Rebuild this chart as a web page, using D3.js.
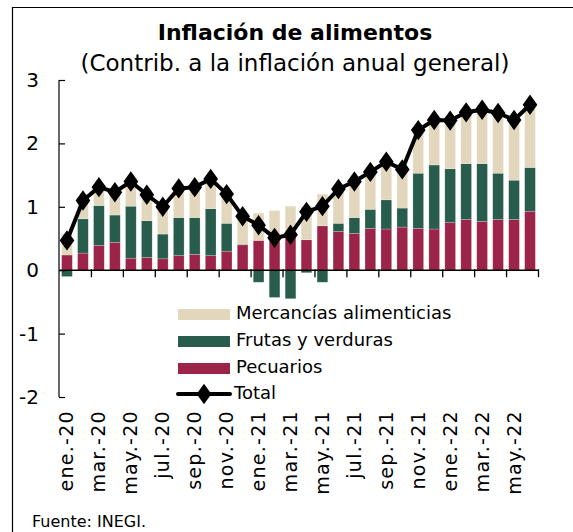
<!DOCTYPE html>
<html>
<head>
<meta charset="utf-8">
<script src="https://cdn.jsdelivr.net/npm/d3@7"></script>
<style>
  body { margin: 0; background: #fff; }
  svg { font-family: "DejaVu Sans", sans-serif; }
</style>
</head>
<body>
<div class="chart"></div>
<script>
// data
const months = ["ene.-20","feb.-20","mar.-20","abr.-20","may.-20","jun.-20","jul.-20","ago.-20","sep.-20","oct.-20","nov.-20","dic.-20",
                "ene.-21","feb.-21","mar.-21","abr.-21","may.-21","jun.-21","jul.-21","ago.-21","sep.-21","oct.-21","nov.-21","dic.-21",
                "ene.-22","feb.-22","mar.-22","abr.-22","may.-22","jun.-22"];
const pecuarios = [0.24,0.27,0.39,0.44,0.19,0.20,0.18,0.23,0.25,0.23,0.30,0.40,
                   0.47,0.46,0.51,0.48,0.70,0.61,0.58,0.66,0.65,0.68,0.66,0.65,
                   0.75,0.80,0.77,0.80,0.80,0.93];
const frutas = [-0.10,0.54,0.63,0.43,0.82,0.58,0.39,0.60,0.58,0.74,0.44,0.01,
                -0.19,-0.43,-0.45,-0.04,-0.19,0.13,0.25,0.30,0.46,0.30,0.87,1.01,
                0.85,0.88,0.91,0.73,0.62,0.69];
const mercancias = [0.33,0.30,0.31,0.36,0.39,0.41,0.43,0.46,0.48,0.47,0.46,0.44,
                    0.43,0.48,0.50,0.53,0.50,0.54,0.57,0.59,0.60,0.61,0.68,0.71,
                    0.76,0.81,0.85,0.95,0.95,0.99];
const total = [0.47,1.10,1.31,1.23,1.40,1.19,1.00,1.29,1.31,1.44,1.20,0.85,
               0.71,0.51,0.56,0.92,1.01,1.28,1.40,1.55,1.71,1.59,2.21,2.37,
               2.36,2.49,2.53,2.48,2.37,2.61];
const yTicks = [-2, -1, 0, 1, 2, 3];

const svgWidth = 573;
const svgHeight = 532;

const colors = {
  pecuarios: "#9d2449",
  frutas: "#285c4d",
  mercancias: "#e2d7bd"
};

const svg = d3.select(".chart")
  .append("svg")
  .attr("width", svgWidth)
  .attr("height", svgHeight);

// frame (only left and top edges are visible)
svg.append("path")
  .attr("d", `M12.5,${svgHeight} V7.5 H${svgWidth}`)
  .attr("fill", "none")
  .attr("stroke", "#000")
  .attr("stroke-width", 1.2);

// titles
svg.append("text")
  .attr("x", 295).attr("y", 40)
  .attr("text-anchor", "middle")
  .attr("font-size", 22).attr("font-weight", "bold")
  .text("Inflación de alimentos");

svg.append("text")
  .attr("x", 295).attr("y", 71)
  .attr("text-anchor", "middle")
  .attr("font-size", 23)
  .text("(Contrib. a la inflación anual general)");

// scales
const x = d3.scaleBand()
  .domain(months)
  .range([59, 538])
  .paddingInner(0.33)
  .paddingOuter(0.165);

const y = d3.scaleLinear()
  .domain([-2, 3])
  .range([397, 80]);

const db = months.map((m, i) => ({
  month: m,
  pecuarios: pecuarios[i],
  frutas: frutas[i],
  mercancias: mercancias[i],
  total: total[i]
}));

const stack = d3.stack()
  .keys(["pecuarios", "frutas", "mercancias"])
  .offset(d3.stackOffsetDiverging);

const series = stack(db);

svg.append("g")
  .selectAll("g")
  .data(series)
  .enter()
  .append("g")
  .attr("fill", s => colors[s.key])
  .selectAll("rect")
  .data(s => s)
  .enter()
  .append("rect")
  .attr("x", d => x(d.data.month))
  .attr("width", x.bandwidth())
  .attr("y", d => y(Math.max(d[0], d[1])))
  .attr("height", d => Math.abs(y(d[0]) - y(d[1])))
  .attr("stroke", "#ffffff")
  .attr("stroke-opacity", 0.35)
  .attr("stroke-width", 0.6);

// y axis
const leftAxis = d3.axisLeft(y)
  .tickValues(yTicks)
  .tickSize(-6)
  .tickPadding(24)
  .tickFormat(d => String(d));

const yAxis = svg.append("g")
  .attr("transform", "translate(59,0)")
  .call(leftAxis);
yAxis.select(".domain").remove();
yAxis.append("line")
  .attr("x1", 0).attr("x2", 0)
  .attr("y1", y(3)).attr("y2", y(-2))
  .attr("stroke", "#000").attr("stroke-width", 1.2);
yAxis.selectAll(".tick line").attr("stroke-width", 1.2);
yAxis.selectAll(".tick text")
  .attr("font-size", 20)
  .attr("font-family", "DejaVu Sans")
  .attr("fill", "#000")
  .attr("text-anchor", "end")
  .attr("dx", 4);

// x axis line at zero with ticks every two months
const xAxisG = svg.append("g");
xAxisG.append("line")
  .attr("x1", 59).attr("x2", 538)
  .attr("y1", y(0)).attr("y2", y(0))
  .attr("stroke", "#000").attr("stroke-width", 1.5);
xAxisG.selectAll(".xt")
  .data(months.filter((m, i) => i % 2 === 1))
  .enter()
  .append("line")
  .attr("x1", d => x(d) + x.step() - x.step() * x.paddingInner() / 2 + 0.5)
  .attr("x2", d => x(d) + x.step() - x.step() * x.paddingInner() / 2 + 0.5)
  .attr("y1", y(0) - 1).attr("y2", y(0) + 7)
  .attr("stroke", "#000").attr("stroke-width", 1.3);

// rotated month labels under the chart
svg.append("g")
  .selectAll("text")
  .data(months.filter((m, i) => i % 2 === 0))
  .enter()
  .append("text")
  .attr("transform", d => `translate(${x(d) + x.bandwidth() / 2 + 1},410) rotate(-90)`)
  .attr("text-anchor", "end")
  .attr("dominant-baseline", "middle")
  .attr("font-size", 19)
  .attr("letter-spacing", 1.3)
  .text(d => d);

// total line with diamonds
const line = d3.line()
  .x(d => x(d.month) + x.bandwidth() / 2)
  .y(d => y(d.total));

svg.append("path")
  .datum(db)
  .attr("d", line)
  .attr("fill", "none")
  .attr("stroke", "#000")
  .attr("stroke-width", 4)
  .attr("stroke-linejoin", "round");

const diamond = d3.symbol().type(d3.symbolDiamond).size(120);
svg.append("g")
  .selectAll("path")
  .data(db)
  .enter()
  .append("path")
  .attr("d", diamond)
  .attr("transform", d => `translate(${x(d.month) + x.bandwidth() / 2},${y(d.total)}) scale(1.25,1)`)
  .attr("fill", "#000");

// legend
const legendItems = [
  { key: "mercancias", label: "Mercancías alimenticias", y: 314 },
  { key: "frutas", label: "Frutas y verduras", y: 341 },
  { key: "pecuarios", label: "Pecuarios", y: 368 }
];
const legend = svg.append("g");
legendItems.forEach(item => {
  legend.append("rect")
    .attr("x", 178).attr("y", item.y - 5)
    .attr("width", 52).attr("height", 11)
    .attr("fill", colors[item.key]);
  legend.append("text")
    .attr("x", 236).attr("y", item.y)
    .attr("dominant-baseline", "middle")
    .attr("font-size", 18)
    .text(item.label);
});
legend.append("line")
  .attr("x1", 178).attr("x2", 230)
  .attr("y1", 394).attr("y2", 394)
  .attr("stroke", "#000").attr("stroke-width", 4).attr("stroke-linecap", "round");
legend.append("path")
  .attr("d", diamond)
  .attr("transform", "translate(204,394) scale(1.25,1)");
legend.append("text")
  .attr("x", 234).attr("y", 394)
  .attr("dominant-baseline", "middle")
  .attr("font-size", 18)
  .text("Total");

// source
svg.append("text")
  .attr("x", 32).attr("y", 527)
  .attr("font-size", 16)
  .text("Fuente: INEGI.");
</script>
</body>
</html>
